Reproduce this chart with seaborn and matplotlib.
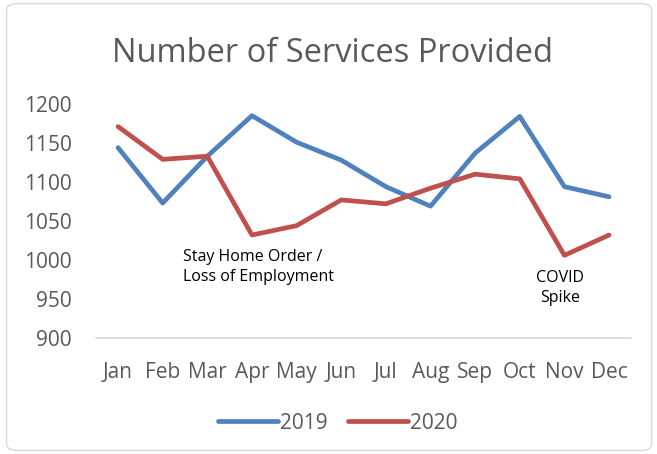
import numpy as np
import pandas as pd
import matplotlib
matplotlib.use("Agg")
import matplotlib.pyplot as plt
import seaborn as sns
from matplotlib.patches import FancyBboxPatch

# 資料
months = ["Jan", "Feb", "Mar", "Apr", "May", "Jun", "Jul", "Aug", "Sep", "Oct", "Nov", "Dec"]
services_2019 = [1144, 1073, 1133, 1185, 1151, 1128, 1094, 1069, 1137, 1184, 1094, 1081]
services_2020 = [1171, 1129, 1133, 1032, 1044, 1077, 1072, 1092, 1110, 1104, 1006, 1032]
yticks = [900, 950, 1000, 1050, 1100, 1150, 1200]

df = pd.DataFrame({
    "Month": months * 2,
    "Services": services_2019 + services_2020,
    "Year": ["2019"] * 12 + ["2020"] * 12,
})
df["idx"] = list(range(12)) * 2

sns.set_style("white")
plt.rcParams["font.family"] = ["Open Sans", "DejaVu Sans"]

fig = plt.figure(figsize=(6.57, 4.54), dpi=100)
ax = fig.add_axes([0.1457, 0.2555, 0.8153, 0.5155])

sns.lineplot(data=df, x="idx", y="Services", hue="Year",
             palette={"2019": "#4F81BD", "2020": "#C0504D"},
             linewidth=3.4, ax=ax, legend=False)

ax.set_xlim(-0.5, 11.5)
ax.set_ylim(900, 1200)
ax.set_xticks(range(12))
ax.set_xticklabels(months)
ax.set_yticks(yticks)
ax.tick_params(axis="both", length=0, labelsize=15, colors="#595959")
ax.tick_params(axis="y", pad=17)
ax.tick_params(axis="x", pad=17)
ax.set_xlabel("")
ax.set_ylabel("")
for s in ["top", "right", "left"]:
    ax.spines[s].set_visible(False)
ax.spines["bottom"].set_color("#D9D9D9")
ax.spines["bottom"].set_linewidth(1.2)

# 註解
ax.text(1.45, 991, "Stay Home Order /\nLoss of Employment", fontsize=11.5,
        ha="left", va="center", color="black", linespacing=1.3)
ax.text(9.90, 964, "COVID\nSpike", fontsize=11.5, ha="center", va="center",
        color="black", linespacing=1.3)

fig.text(0.506, 0.8634, "Number of Services Provided", ha="center", va="baseline",
         fontsize=23.5, color="#595959")

# 圖例
handles = [plt.Line2D([0], [0], color="#4F81BD", lw=3.4, solid_capstyle="round"),
           plt.Line2D([0], [0], color="#C0504D", lw=3.4, solid_capstyle="round")]
fig.legend(handles, ["2019", "2020"], loc="center", bbox_to_anchor=(0.514, 0.068),
           ncol=2, frameon=False, fontsize=15, labelcolor="#595959",
           handlelength=2.85, handletextpad=0.1, columnspacing=1.0)

border = FancyBboxPatch((0.01, 0.008), 0.982, 0.984, boxstyle="round,pad=0,rounding_size=0.015",
                        transform=fig.transFigure, fill=False, edgecolor="#D9D9D9", linewidth=1)
fig.patches.append(border)

fig.savefig("out.png", dpi=100)
